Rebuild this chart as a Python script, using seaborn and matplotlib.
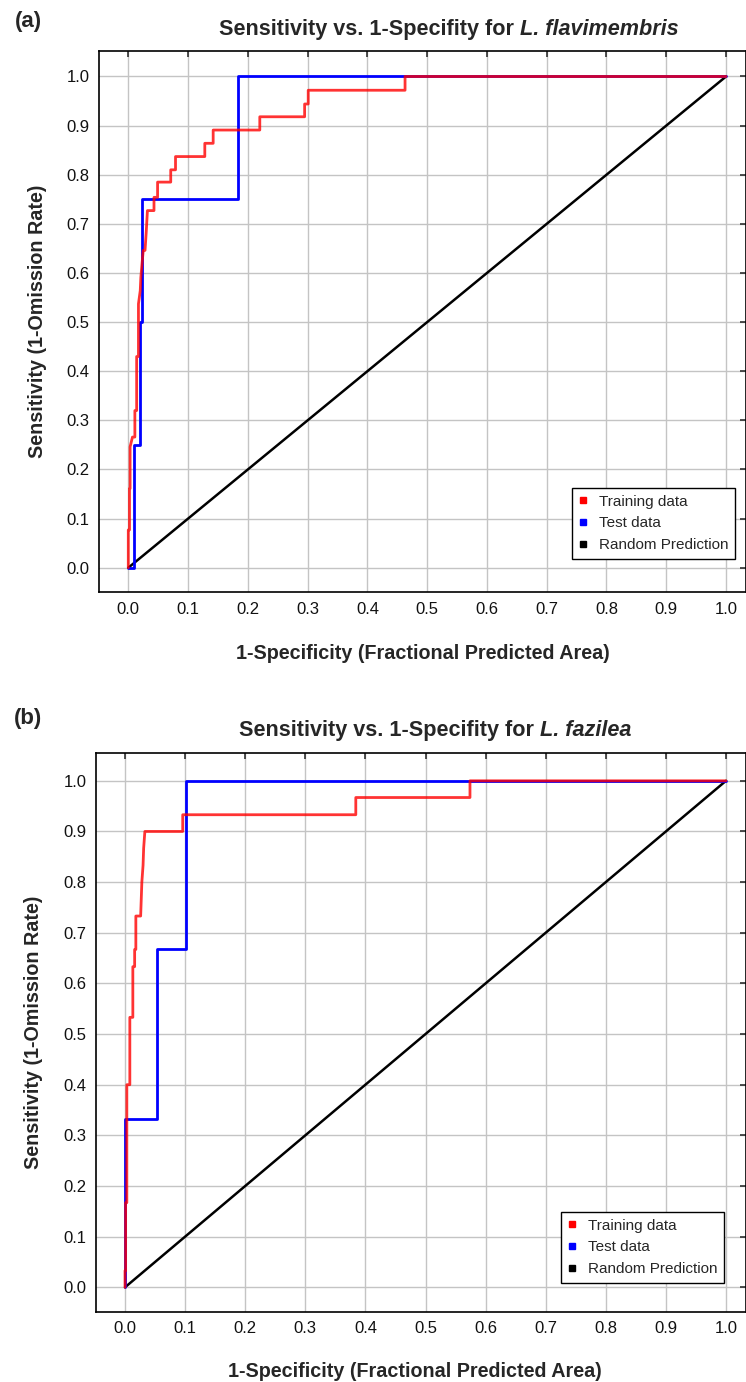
import matplotlib
matplotlib.use("Agg")
import matplotlib.pyplot as plt
from matplotlib.lines import Line2D
import seaborn as sns

# ---- data ----
# (a) L. flavimembris
train_a_x = [0.0, 0.0, 0.002, 0.002, 0.003, 0.003, 0.007, 0.011, 0.011, 0.014, 0.014,
             0.017, 0.017, 0.020, 0.021, 0.023, 0.025, 0.028, 0.030, 0.032, 0.043,
             0.043, 0.049, 0.049, 0.071, 0.071, 0.079, 0.079, 0.128, 0.128, 0.142,
             0.142, 0.220, 0.220, 0.295, 0.295, 0.301, 0.301, 0.463, 0.463, 1.0]
train_a_y = [0.0, 0.077, 0.077, 0.161, 0.161, 0.246, 0.266, 0.266, 0.320, 0.320, 0.430,
             0.430, 0.537, 0.564, 0.591, 0.619, 0.646, 0.646, 0.683, 0.727, 0.727,
             0.754, 0.754, 0.785, 0.785, 0.810, 0.810, 0.837, 0.837, 0.864, 0.864,
             0.891, 0.891, 0.918, 0.918, 0.944, 0.944, 0.972, 0.972, 1.0, 1.0]
test_a_x = [0.0, 0.010, 0.010, 0.020, 0.020, 0.023, 0.023, 0.184, 0.184, 1.0]
test_a_y = [0.0, 0.0, 0.25, 0.25, 0.50, 0.50, 0.75, 0.75, 1.0, 1.0]

# (b) L. fazilea
train_b_x = [0.0, 0.0, 0.001, 0.001, 0.003, 0.003, 0.008, 0.008, 0.013, 0.013, 0.016,
             0.016, 0.018, 0.018, 0.026, 0.028, 0.030, 0.031, 0.033, 0.096, 0.096,
             0.384, 0.384, 0.574, 0.574, 1.0]
train_b_y = [0.0, 0.033, 0.033, 0.167, 0.167, 0.400, 0.400, 0.533, 0.533, 0.633, 0.633,
             0.667, 0.667, 0.733, 0.733, 0.800, 0.833, 0.867, 0.900, 0.900, 0.933,
             0.933, 0.967, 0.967, 1.0, 1.0]
test_b_x = [0.0, 0.0, 0.053, 0.053, 0.101, 0.101, 1.0]
test_b_y = [0.0, 0.333, 0.333, 0.667, 0.667, 1.0, 1.0]

random_x = [0.0, 1.0]
random_y = [0.0, 1.0]

ticks = [0.0, 0.1, 0.2, 0.3, 0.4, 0.5, 0.6, 0.7, 0.8, 0.9, 1.0]
tick_labels = ["0.0", "0.1", "0.2", "0.3", "0.4", "0.5", "0.6", "0.7", "0.8", "0.9", "1.0"]
legend_labels = ["Training data", "Test data", "Random Prediction"]

W, H = 746, 1382

sns.set_style("white")
plt.rcParams['font.family'] = ['Liberation Sans', 'DejaVu Sans']

fig = plt.figure(figsize=(W / 100, H / 100), dpi=100)


def make_panel(box, tx, ty, trx, try_):
    left, top, right, bottom = box
    ax = fig.add_axes([left / W, 1 - bottom / H, (right - left) / W, (bottom - top) / H])
    ax.grid(True, color='#c4c4c4', lw=1.0)
    ax.set_axisbelow(True)
    sns.lineplot(x=random_x, y=random_y, sort=False, estimator=None, color='black', lw=1.8, ax=ax)
    sns.lineplot(x=tx, y=ty, sort=False, estimator=None, color='#0000ff', lw=2.0, ax=ax)
    sns.lineplot(x=trx, y=try_, sort=False, estimator=None, color='#ff0000',
                 lw=2.0, alpha=0.8, ax=ax)
    return ax


def style_axes(ax, xlim, ylim, legend_anchor, ylab_x, xlab_xy):
    ax.set_xlim(*xlim)
    ax.set_ylim(*ylim)
    ax.set_xticks(ticks)
    ax.set_xticklabels(tick_labels)
    ax.set_yticks(ticks)
    ax.set_yticklabels(tick_labels)
    ax.tick_params(direction='in', length=4.5, width=1.1, color='#222222',
                   labelsize=12, pad=7, top=True, right=True, labelcolor='#111111')
    for s in ax.spines.values():
        s.set_color('black')
        s.set_linewidth(1.2)
    ax.set_xlabel("1-Specificity (Fractional Predicted Area)", fontsize=14.2, fontweight='bold')
    ax.set_ylabel("Sensitivity (1-Omission Rate)", fontsize=14.2, fontweight='bold')
    ax.xaxis.set_label_coords(*xlab_xy)
    ax.yaxis.set_label_coords(ylab_x, 0.5)
    handles = [Line2D([], [], marker='s', ls='none', color=c, markersize=5)
               for c in ['#ff0000', '#0000ff', 'black']]
    leg = ax.legend(handles, legend_labels, loc='lower right', bbox_to_anchor=legend_anchor,
                    borderaxespad=0, fontsize=11, frameon=True, fancybox=False,
                    framealpha=1, edgecolor='black', handlelength=0.6, handletextpad=0.7,
                    borderpad=0.45, labelspacing=0.5)
    leg.get_frame().set_linewidth(1.0)


def split_title(cx, base_y, plain, ital, size):
    r = fig.canvas.get_renderer()
    t1 = fig.text(0, 1 - base_y / H, plain, fontsize=size, fontweight='bold', va='baseline')
    t2 = fig.text(0, 1 - base_y / H, ital, fontsize=size, fontweight='bold',
                  style='italic', va='baseline')
    w1 = t1.get_window_extent(r).width
    w2 = t2.get_window_extent(r).width
    gap = size * 100 / 72 * 0.28
    x0 = cx - (w1 + gap + w2) / 2
    t1.set_x(x0 / W)
    t2.set_x((x0 + w1 + gap) / W)


# panel (a)
ax_a = make_panel((99.3, 50.7, 746, 592.3), test_a_x, test_a_y, train_a_x, train_a_y)
style_axes(ax_a, (-0.0485, 1.0334), (-0.050, 1.0525), (0.983, 0.0615), -0.081, (0.5, -0.095))

# panel (b)
ax_b = make_panel((96, 753.3, 746, 1311.7), test_b_x, test_b_y, train_b_x, train_b_y)
style_axes(ax_b, (-0.0483, 1.0333), (-0.0482, 1.0543), (0.966, 0.0514), -0.081, (0.49, -0.090))

fig.canvas.draw()
split_title(449, 35, "Sensitivity vs. 1-Specifity for", "L. flavimembris", 15.6)
split_title(435, 736, "Sensitivity vs. 1-Specifity for", "L. fazilea", 15.6)
fig.text(28 / W, 1 - 22 / H, "(a)", fontsize=16, fontweight='bold', ha='center', va='center')
fig.text(28 / W, 1 - 718 / H, "(b)", fontsize=16, fontweight='bold', ha='center', va='center')

fig.savefig("out.png", dpi=100)
